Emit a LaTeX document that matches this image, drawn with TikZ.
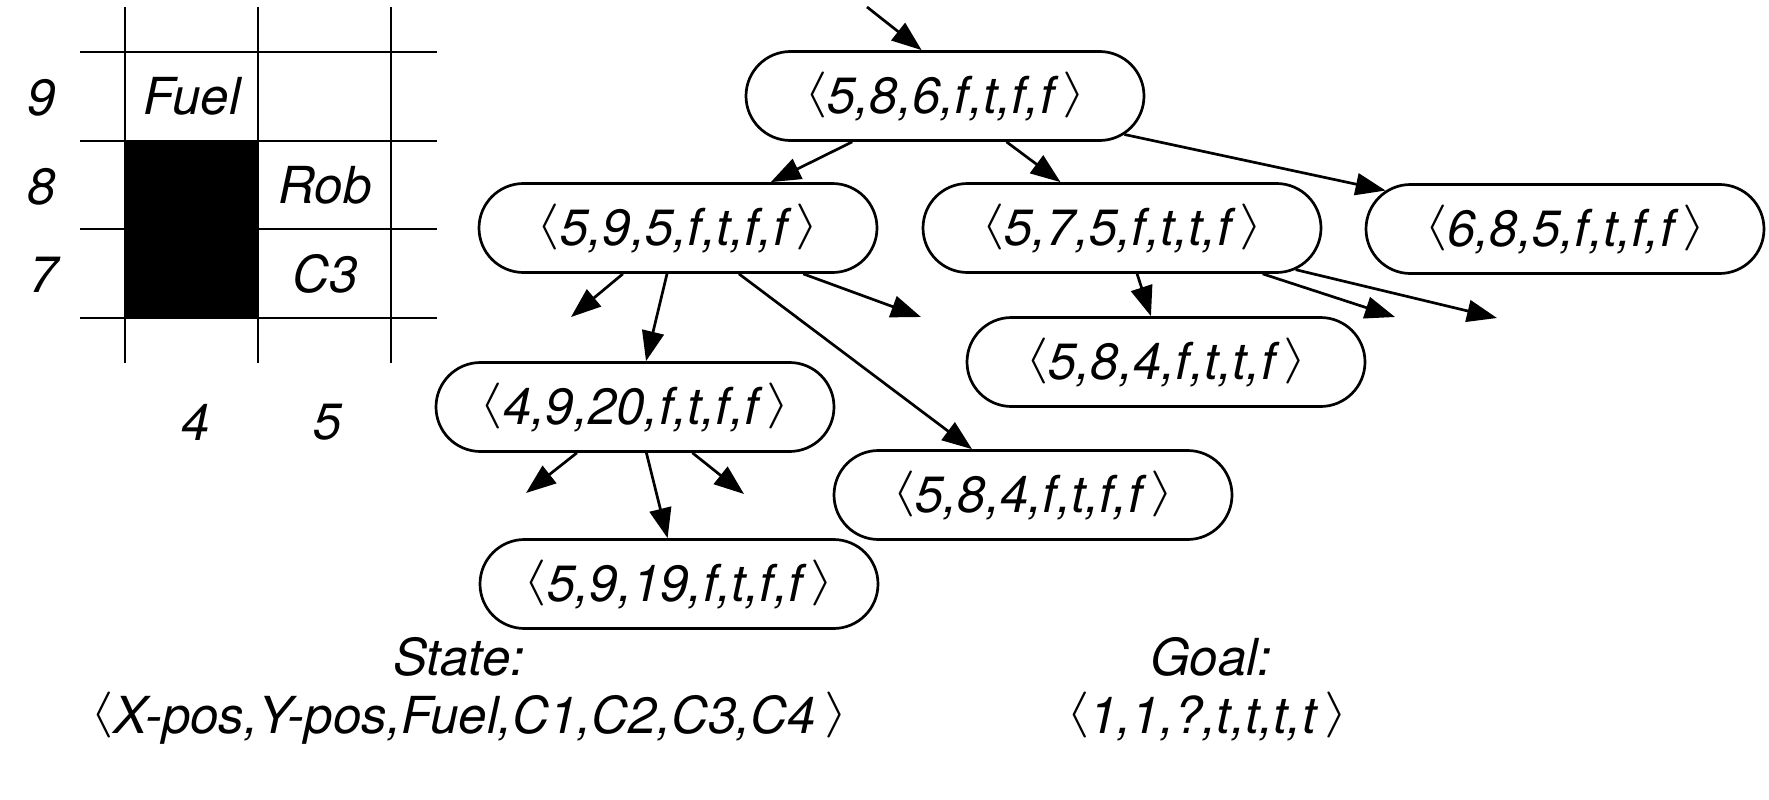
\documentclass[tikz,border=0pt]{standalone}
\usepackage{graphicx}
\usepackage{fontspec}
\setmainfont{TeX Gyre Heros}
\usetikzlibrary{shapes.misc,arrows.meta}
\newcommand{\angl}{\raisebox{7pt}{\scalebox{6}[4.6]{\fontsize{10}{12}\selectfont$\langle$}}}
\newcommand{\angr}{\raisebox{7pt}{\scalebox{6}[4.6]{\fontsize{10}{12}\selectfont$\rangle$}}}
\newcommand{\tup}[1]{\angl#1\,\angr}
\begin{document}
\begin{tikzpicture}[x=1pt,y=-1pt,line width=2.7pt,
  st/.style={draw, rounded rectangle, minimum width=398pt, minimum height=89pt,
    inner sep=0pt, text height=35pt, text depth=0pt,
    font=\fontsize{51}{60}\selectfont\itshape},
  lbl/.style={inner sep=0pt, font=\fontsize{51}{60}\selectfont\itshape},
  arr/.style={-{Triangle[length=30pt,width=22pt]}}]
\useasboundingbox (0,0) rectangle (1769,800);
% grid
\fill (125,141) rectangle (258,318);
\foreach \x in {125,258,391} \draw (\x,7) -- (\x,363);
\foreach \y in {52,141,229,318} \draw (80,\y) -- (437,\y);
\node[lbl] (l9) at (42,98) {9};
\node[lbl] (l8) at (42,187) {8};
\node[lbl] (l7) at (44,275) {7};
\node[lbl] (l4) at (196,422) {4};
\node[lbl] (l5) at (328,422) {5};
\node[lbl] (fuel) at (192,96) {Fuel};
\node[lbl] (rob) at (325,185) {Rob};
\node[lbl] (c3) at (325,274) {C3};
% search tree
\node[st] (root) at (945,96) {\tup{5,8,6,f,t,f,f}};
\node[st] (n1) at (678,228) {\tup{5,9,5,f,t,f,f}};
\node[st] (n2) at (1122,228) {\tup{5,7,5,f,t,t,f}};
\node[st] (n3) at (1565,229) {\tup{6,8,5,f,t,f,f}};
\node[st] (n4) at (1166,362) {\tup{5,8,4,f,t,t,f}};
\node[st] (n5) at (635,407) {\tup{4,9,20,f,t,f,f}};
\node[st] (n6) at (1033,495) {\tup{5,8,4,f,t,f,f}};
\node[st] (n7) at (679,584) {\tup{5,9,19,f,t,f,f}};
\coordinate (in) at (867,7);
\coordinate (d1) at (571,317);
\coordinate (d2) at (921,317);
\coordinate (d3) at (526,493);
\coordinate (d4) at (744,494);
\coordinate (d5) at (1395,317);
\coordinate (d6) at (1497,318);
\draw[arr] (in) -- (root.117);
\draw[arr] (root) -- (n1);
\draw[arr] (root) -- (n2);
\draw[arr] (root) -- (n3);
\draw[arr] (n1) -- (d1);
\draw[arr] (n1) -- (n5);
\draw[arr] (n1) -- (d2);
\draw[arr] (n1) -- (n6);
\draw[arr] (n2) -- (n4);
\draw[arr] (n2) -- (d5);
\draw[arr] (n2) -- (d6);
\draw[arr] (n5) -- (d3);
\draw[arr] (n5) -- (n7);
\draw[arr] (n5) -- (d4);
% captions
\node[lbl, anchor=base] (state) at (459,675) {State:};
\node[lbl, anchor=base] (statetup) at (469,733) {\tup{X-pos,Y-pos,Fuel,C1,C2,C3,C4}};
\node[lbl, anchor=base] (goal) at (1211,675) {Goal:};
\node[lbl, anchor=base] (goaltup) at (1207,733) {\tup{1,1,?,t,t,t,t}};
\end{tikzpicture}
\end{document}
